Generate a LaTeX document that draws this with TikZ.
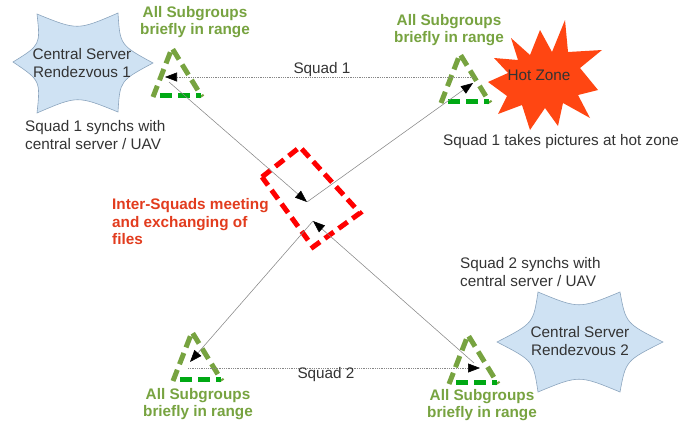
\documentclass[tikz,border=0pt]{standalone}
\usepackage{fontspec}
\setmainfont{Liberation Sans}
\usetikzlibrary{arrows.meta}
\definecolor{subgreen}{RGB}{119,163,64}
\definecolor{basegreen}{RGB}{0,169,20}
\definecolor{textgray}{RGB}{51,51,51}
\definecolor{meetred}{RGB}{226,60,30}
\definecolor{hotred}{RGB}{255,70,18}
\definecolor{starblue}{RGB}{207,226,243}
\definecolor{staredge}{RGB}{140,165,190}
\definecolor{linegray}{RGB}{135,135,135}
\tikzset{
  txt/.style={font=\fontsize{15.3}{17.5}\selectfont, text=textgray, inner sep=0pt, align=center},
  grp/.style={font=\fontsize{15.3}{17.5}\selectfont\bfseries, text=subgreen, inner sep=0pt, align=center},
  meettxt/.style={font=\fontsize{15.3}{17.5}\selectfont\bfseries, text=meetred, inner sep=0pt, align=left},
  triside/.style={draw=subgreen, line width=5pt, dash pattern=on 12pt off 6pt},
  tribase/.style={draw=basegreen, line width=5pt, dash pattern=on 12pt off 6pt},
  link/.style={draw=linegray, line width=0.55pt, -{Triangle[length=12pt,width=9pt,black]}},
  dotlink/.style={link, dash pattern=on 1pt off 0.8pt},
  meetbox/.style={draw=red, line width=5pt, dash pattern=on 11pt off 6pt},
  cloudshape/.style={fill=starblue, draw=staredge, line width=0.6pt},
}
\newcommand\squadtri[3]{%
  \coordinate (#1-apex) at (#2,#3);
  \coordinate (#1-l) at (#2-19,#3+49);
  \coordinate (#1-r) at (#2+30,#3+49);
  \coordinate (#1-gl) at (#2-12,#3+47);
  \coordinate (#1-gr) at (#2+29,#3+47);
  \draw[triside] (#1-l) -- (#1-apex) -- (#1-r);
  \draw[tribase] (#1-gl) -- (#1-gr);
}
\begin{document}
\begin{tikzpicture}[x=1pt,y=-1pt]
\useasboundingbox (0,0) rectangle (698,423);

% Central server star 1
\draw[cloudshape] (13,62) .. controls (40.5,45) .. (37,14)
  .. controls (77.5,30.5) .. (118,13)
  .. controls (120,45) .. (153,63)
  .. controls (119.9,80.7) .. (118,112)
  .. controls (77.5,95.5) .. (37,113)
  .. controls (40.5,80.5) .. cycle;
% Central server star 2
\draw[cloudshape] (497,342) .. controls (533.3,323.3) .. (538,292)
  .. controls (579,309) .. (620,292)
  .. controls (625.8,323.4) .. (663,342)
  .. controls (625.8,360.6) .. (620,392)
  .. controls (579,375) .. (538,392)
  .. controls (533.3,360.7) .. cycle;
% Hot zone explosion
\fill[hotred] (511,38) -- (530,55) -- (540,30) -- (552,52) -- (565,20) -- (568,52)
  -- (602,50) -- (580,68) -- (598,90) -- (578,95) -- (590,118) -- (563,103)
  -- (558,126) -- (545,108) -- (530,130) -- (522,105) -- (498,114) -- (507,96)
  -- (488,82) -- (508,73) -- (494,58) -- (518,60) -- cycle;

% Meeting area
\draw[meetbox] (262,177) -- (300,147) -- (360,213) -- (313,247) -- cycle;

% Triangles
\squadtri{t1}{172}{48}
\squadtri{t2}{460}{54}
\squadtri{t3}{192}{332}
\squadtri{t4}{468}{335}

% Connector end points
\coordinate (m1) at (307,202);
\coordinate (m2) at (313,221);
\coordinate (a1) at (165,77);
\coordinate (a1s) at (169,82);
\coordinate (a2) at (473,83);
\coordinate (a2s) at (473,77);
\coordinate (a3) at (190,362);
\coordinate (a3s) at (188,368);
\coordinate (a4) at (480,368);
\coordinate (a4s) at (474,363);

\draw[dotlink] (a2s) -- (a1);
\draw[link] (a1s) -- (m1);
\draw[link] (m1) -- (a2);
\draw[link] (m2) -- (a3);
\draw[dotlink] (a3s) -- (a4);
\draw[link] (a4s) -- (m2);

% Texts
\node[txt] (cs1) at (82,63) {Central Server\\Rendezvous 1};
\node[txt] (cs2) at (580,341) {Central Server\\Rendezvous 2};
\node[txt] (hz) at (539,75) {Hot Zone};
\node[grp] (g1) at (195,22) {All Subgroups\\briefly in range};
\node[grp] (g2) at (449,30) {All Subgroups\\briefly in range};
\node[grp] (g3) at (198,404) {All Subgroups\\briefly in range};
\node[grp] (g4) at (482,405) {All Subgroups\\briefly in range};
\node[txt, align=left, anchor=west] (s1) at (25,135) {Squad 1 synchs with\\central server / UAV};
\node[txt, anchor=west] (s1b) at (443,142) {Squad 1 takes pictures at hot zone};
\node[txt, align=left, anchor=west] (s2) at (460,272) {Squad 2 synchs with\\central server / UAV};
\node[meettxt, anchor=west] (mt) at (112,222) {Inter-Squads meeting\\and exchanging of\\files};
\node[txt] (sq1) at (322,70) {Squad 1};
\node[txt] (sq2) at (326,375) {Squad 2};
\end{tikzpicture}
\end{document}
